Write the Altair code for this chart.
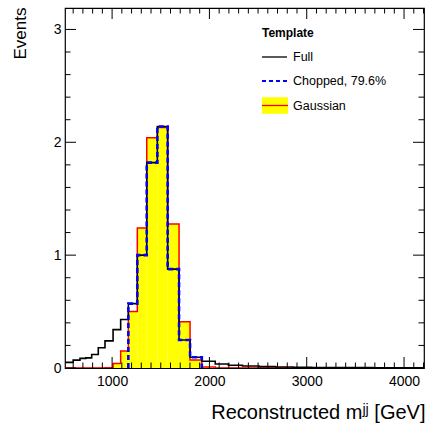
import altair as alt
import pandas as pd

FONT = "Liberation Sans"

# ---- data ----
edges = [516, 600, 670, 730, 790, 858, 927, 1010, 1088, 1167, 1259, 1356, 1465, 1571,
         1688, 1801, 1922, 2060, 2195, 2340, 2510, 2680, 2860, 3050, 3250, 3460, 3680,
         3910, 4150, 4205]
full = [0.05, 0.07, 0.085, 0.09, 0.12, 0.18, 0.24, 0.34, 0.43,
        0.57, 1.00, 1.82, 2.14, 0.876, 0.248, 0.095,
        0.06, 0.035, 0.024, 0.018, 0.012, 0.009, 0.007, 0.005, 0.004, 0.003, 0.002, 0.002, 0.001]
chopped = [0, 0, 0, 0, 0, 0, 0, 0, 0,
           0.57, 1.00, 1.82, 2.14, 0.876, 0.248, 0.095,
           0, 0, 0, 0, 0, 0, 0, 0, 0, 0, 0, 0, 0]
gauss = [0, 0, 0, 0, 0, 0, 0.003, 0.04, 0.15,
         0.50, 1.24, 2.04, 2.13, 1.275, 0.41, 0.07,
         0.008, 0, 0, 0, 0, 0, 0, 0, 0, 0, 0, 0, 0]

legend_title = "Template"
legend_labels = ["Full", "Chopped, 79.6%", "Gaussian"]
x_labels = [1000, 2000, 3000, 4000]
y_labels = [0, 1, 2, 3]
x_title = "Reconstructed mʲʲ [GeV]"
y_title = "Events"

X_DOMAIN = [516, 4205]
Y_DOMAIN = [0, 3.19]
W, H = 359, 360


def step_frame(vals):
    rows = [{"v": edges[i], "y": v, "i": i} for i, v in enumerate(vals)]
    rows.append({"v": edges[-1], "y": vals[-1], "i": len(vals)})
    return pd.DataFrame(rows)


def chopped_frame(vals):
    idx = [i for i, v in enumerate(vals) if v > 0]
    a, b = idx[0], idx[-1]
    rows = [{"v": edges[a], "y": 0, "i": 0}]
    for k, i in enumerate(range(a, b + 1)):
        rows.append({"v": edges[i], "y": vals[i], "i": k + 1})
    rows.append({"v": edges[b + 1], "y": 0, "i": b - a + 2})
    return pd.DataFrame(rows)


xs = alt.Scale(domain=X_DOMAIN, nice=False, zero=False)
ys = alt.Scale(domain=Y_DOMAIN, nice=False, zero=False)

x_axis = alt.Axis(values=x_labels, format="d", ticks=False, tickSize=0, domain=False, grid=False,
                  labelFontSize=14, labelPadding=6, labelFont=FONT, labelColor="black",
                  title=x_title, titleFont=FONT, titleFontSize=20, titleFontWeight="normal",
                  titleColor="black", titleAlign="right", titleBaseline="alphabetic",
                  titleX=W + 1, titleY=50, titleAngle=0)
y_axis = alt.Axis(values=y_labels, format="d", ticks=False, tickSize=0, domain=False, grid=False,
                  labelFontSize=14, labelPadding=4, labelFont=FONT, labelColor="black",
                  title=y_title, titleFont=FONT, titleFontSize=17, titleFontWeight="normal",
                  titleColor="black", titleAlign="right", titleBaseline="alphabetic",
                  titleX=-40, titleY=-1, titleAngle=270)


def X(field="v:Q"):
    return alt.X(field, scale=xs, axis=x_axis)


def Y(field="y:Q"):
    return alt.Y(field, scale=ys, axis=y_axis)


area = alt.Chart(step_frame(gauss)).mark_area(
    interpolate="step-after", color="#ffff00", clip=True
).encode(x=X(), y=Y(), order="i:Q")
red = alt.Chart(step_frame(gauss)).mark_line(
    interpolate="step-after", color="#ff0000", strokeWidth=1.5, clip=True
).encode(x=X(), y=Y(), order="i:Q")
black = alt.Chart(step_frame(full)).mark_line(
    interpolate="step-after", color="black", strokeWidth=1.6, clip=True
).encode(x=X(), y=Y(), order="i:Q")
blue = alt.Chart(chopped_frame(chopped)).mark_line(
    interpolate="step-after", color="#0000ff", strokeWidth=2.6, strokeDash=[5, 3], clip=True
).encode(x=X(), y=Y(), order="i:Q")

# ---- inward ticks on all four sides ----
x_major = pd.DataFrame({"v": x_labels})
x_minor = pd.DataFrame({"v": [v for v in range(600, 4201, 100) if v % 1000 != 0]})
y_major = pd.DataFrame({"y": y_labels})
y_minor = pd.DataFrame({"y": [k / 5 for k in range(1, 16) if k % 5 != 0]})
LMAJ, LMIN = 11, 5.5


def xticks(df, length, top):
    y0 = 0 if top else H
    y1 = length if top else H - length
    return alt.Chart(df).mark_rule(color="black", strokeWidth=1).encode(
        x=X(), y=alt.value(y0), y2=alt.value(y1))


def yticks(df, length, right):
    x0 = W if right else 0
    x1 = W - length if right else length
    return alt.Chart(df).mark_rule(color="black", strokeWidth=1).encode(
        y=Y(), x=alt.value(x0), x2=alt.value(x1))


ticks = [xticks(x_major, LMAJ, False), xticks(x_major, LMAJ, True),
         xticks(x_minor, LMIN, False), xticks(x_minor, LMIN, True),
         yticks(y_major, LMAJ, False), yticks(y_major, LMAJ, True),
         yticks(y_minor, LMIN, False), yticks(y_minor, LMIN, True)]

# ---- legend (top right) ----
LX0, LX1, TX = 197, 222, 228
rows_y = [49, 73, 97.5]
leg_title = alt.Chart(pd.DataFrame({"t": [legend_title]})).mark_text(
    align="left", baseline="middle", font=FONT, fontSize=12, fontWeight="bold", color="black"
).encode(x=alt.value(LX0), y=alt.value(25), text="t:N")
leg_text = alt.Chart(pd.DataFrame({"t": legend_labels, "py": rows_y})).mark_text(
    align="left", baseline="middle", font=FONT, fontSize=12.5, color="black"
).encode(x=alt.value(TX), y=alt.Y("py:Q", scale=None, axis=None), text="t:N")
leg_full = alt.Chart(pd.DataFrame({"t": [legend_labels[0]]})).mark_rule(
    color="black", strokeWidth=1.3).encode(x=alt.value(LX0), x2=alt.value(LX1), y=alt.value(rows_y[0]))
leg_chop = alt.Chart(pd.DataFrame({"t": [legend_labels[1]]})).mark_rule(
    color="#0000ff", strokeWidth=2.2, strokeDash=[4, 3]).encode(
    x=alt.value(LX0), x2=alt.value(LX1 + 1), y=alt.value(rows_y[1]))
leg_box = alt.Chart(pd.DataFrame({"t": [legend_labels[2]]})).mark_rect(
    color="#ffff00").encode(x=alt.value(LX0), x2=alt.value(LX1 + 1),
                            y=alt.value(rows_y[2] - 8.3), y2=alt.value(rows_y[2] + 8.3))
leg_red = alt.Chart(pd.DataFrame({"t": [legend_labels[2]]})).mark_rule(
    color="#ff0000", strokeWidth=1.3).encode(x=alt.value(LX0), x2=alt.value(LX1 + 1), y=alt.value(rows_y[2]))

chart = alt.layer(
    area, red, black, blue, *ticks,
    leg_title, leg_text, leg_full, leg_chop, leg_box, leg_red
).properties(
    width=W, height=H,
    padding={"left": 65, "top": 8, "right": 3, "bottom": 56},
    autosize=alt.AutoSizeParams(type="none"),
    background="white",
).configure_view(stroke="black", strokeWidth=1.2)

chart.save("out.html", embed_options={"renderer": "svg", "actions": False})
